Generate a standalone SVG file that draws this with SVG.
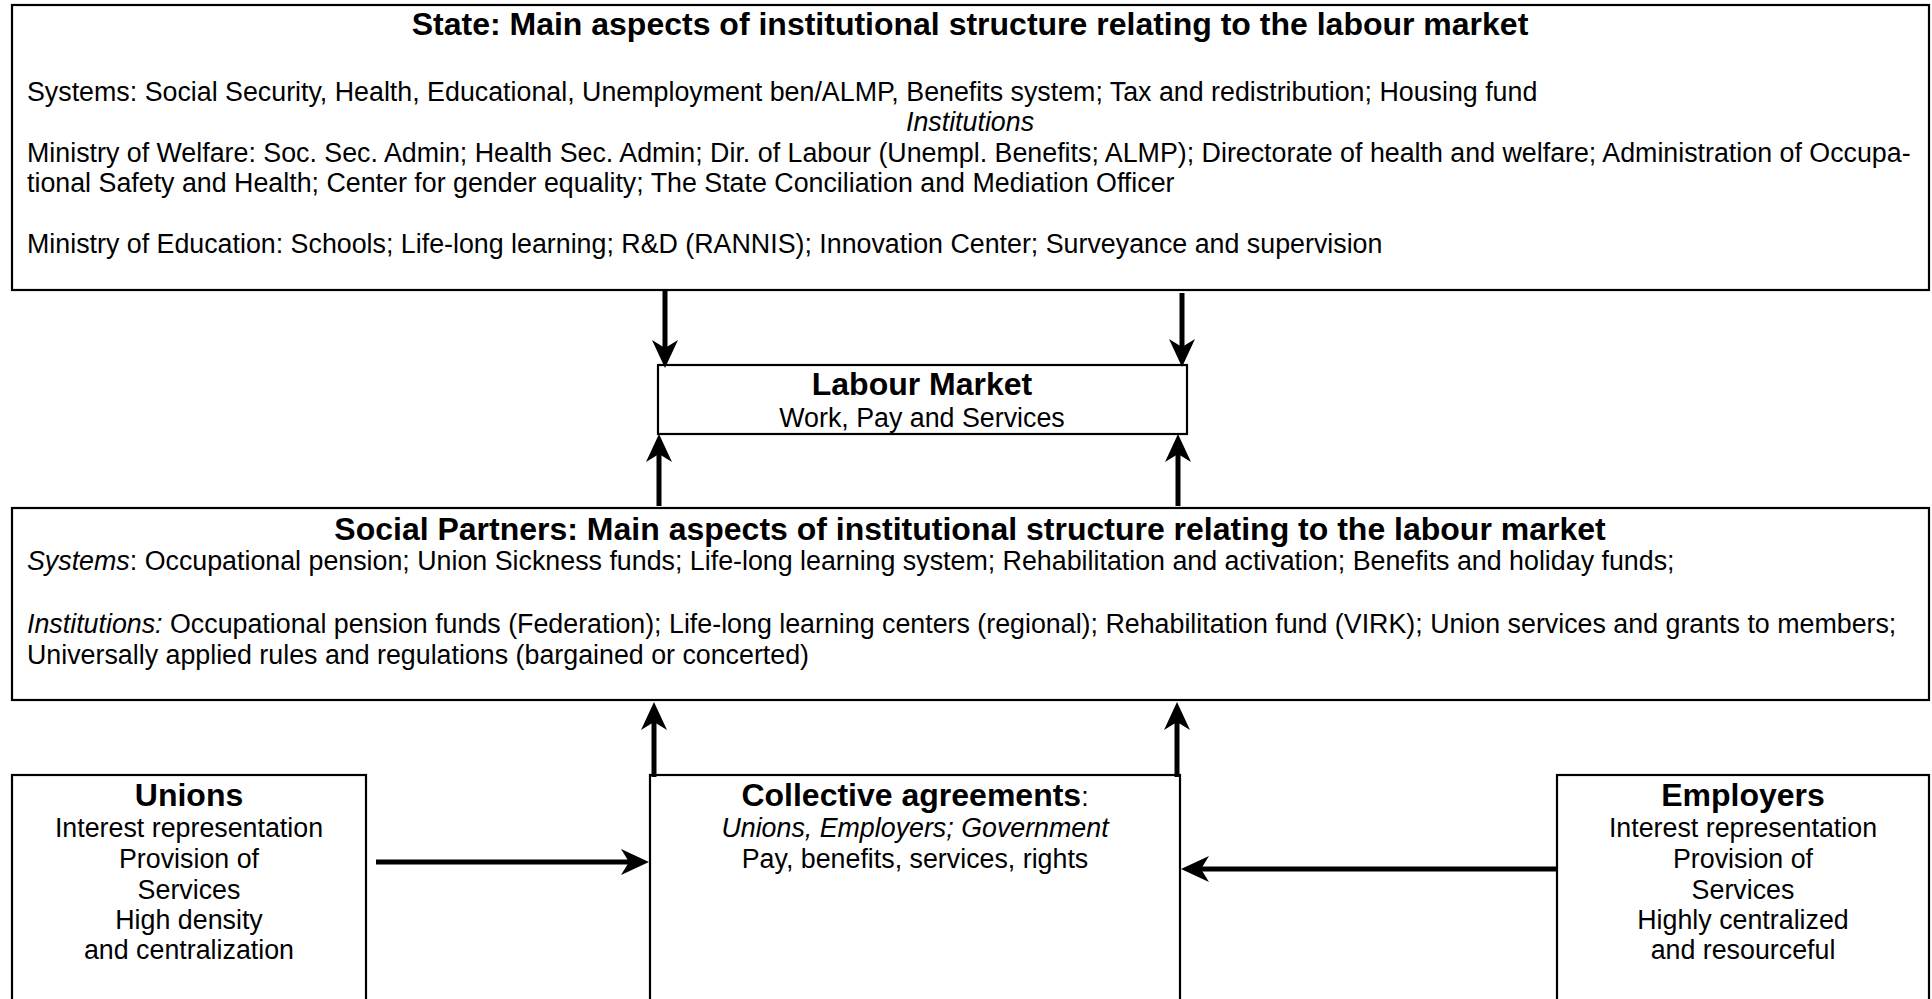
<svg xmlns="http://www.w3.org/2000/svg" width="1932" height="999" viewBox="0 0 1932 999">
<defs>
<style>
.box{fill:#fff;stroke:#000;stroke-width:2.2}
.t{font-family:"Liberation Sans",Arial,sans-serif;font-size:26.8px;fill:#000}
.b{font-family:"Liberation Sans",Arial,sans-serif;font-size:32px;font-weight:bold;fill:#000}
.c{text-anchor:middle}
.i{font-style:italic}
.arr{stroke:#000;stroke-width:5;fill:none;marker-end:url(#ah)}
</style>
<marker id="ah" markerUnits="userSpaceOnUse" markerWidth="30" markerHeight="30" viewBox="0 -15 30 30" refX="8" refY="0" orient="auto">
<path d="M0,-13 L28,0 L0,13 L8,0 Z" fill="#000"/>
</marker>
</defs>

<g id="state">
<rect class="box" x="12" y="5" width="1917" height="285"/>
<text class="b c" x="970" y="35">State: Main aspects of institutional structure relating to the labour market</text>
<text class="t" x="27" y="101">Systems: Social Security, Health, Educational, Unemployment ben/ALMP, Benefits system; Tax and redistribution; Housing fund</text>
<text class="t c i" x="970" y="131">Institutions</text>
<text class="t" x="27" y="162">Ministry of Welfare: Soc. Sec. Admin; Health Sec. Admin; Dir. of Labour (Unempl. Benefits; ALMP); Directorate of health and welfare; Administration of Occupa-</text>
<text class="t" x="27" y="192">tional Safety and Health; Center for gender equality; The State Conciliation and Mediation Officer</text>
<text class="t" x="27" y="253">Ministry of Education: Schools; Life-long learning; R&amp;D (RANNIS); Innovation Center; Surveyance and supervision</text>
</g>

<g id="labour-market">
<rect class="box" x="658" y="365" width="529" height="69"/>
<text class="b c" x="922" y="395">Labour Market</text>
<text class="t c" x="922" y="427">Work, Pay and Services</text>
</g>

<g id="social-partners">
<rect class="box" x="12" y="508" width="1917" height="192"/>
<text class="b c" x="970" y="540">Social Partners: Main aspects of institutional structure relating to the labour market</text>
<text class="t" x="27" y="570"><tspan class="i">Systems</tspan>: Occupational pension; Union Sickness funds; Life-long learning system; Rehabilitation and activation; Benefits and holiday funds;</text>
<text class="t" x="27" y="633"><tspan class="i">Institutions:</tspan> Occupational pension funds (Federation); Life-long learning centers (regional); Rehabilitation fund (VIRK); Union services and grants to members;</text>
<text class="t" x="27" y="664">Universally applied rules and regulations (bargained or concerted)</text>
</g>

<g id="unions">
<rect class="box" x="12" y="775" width="354" height="240"/>
<text class="b c" x="189" y="806">Unions</text>
<text class="t c" x="189" y="837">Interest representation</text>
<text class="t c" x="189" y="868">Provision of</text>
<text class="t c" x="189" y="899">Services</text>
<text class="t c" x="189" y="929">High density</text>
<text class="t c" x="189" y="959">and centralization</text>
</g>

<g id="collective-agreements">
<rect class="box" x="650" y="775" width="530" height="240"/>
<text class="c" x="915" y="806"><tspan class="b">Collective agreements</tspan><tspan class="t" font-size="32">:</tspan></text>
<text class="t c i" x="915" y="837">Unions, Employers; Government</text>
<text class="t c" x="915" y="868">Pay, benefits, services, rights</text>
</g>

<g id="employers">
<rect class="box" x="1557" y="775" width="372" height="240"/>
<text class="b c" x="1743" y="806">Employers</text>
<text class="t c" x="1743" y="837">Interest representation</text>
<text class="t c" x="1743" y="868">Provision of</text>
<text class="t c" x="1743" y="899">Services</text>
<text class="t c" x="1743" y="929">Highly centralized</text>
<text class="t c" x="1743" y="959">and resourceful</text>
</g>

<g id="connectors">
<line class="arr" x1="665" y1="290" x2="665" y2="348"/>
<line class="arr" x1="1182" y1="293" x2="1182" y2="347"/>
<line class="arr" x1="659" y1="506" x2="659" y2="454"/>
<line class="arr" x1="1178" y1="506" x2="1178" y2="454"/>
<line class="arr" x1="654" y1="777" x2="654" y2="722"/>
<line class="arr" x1="1177" y1="777" x2="1177" y2="722"/>
<line class="arr" x1="376" y1="862" x2="629" y2="862"/>
<line class="arr" x1="1557" y1="869" x2="1201" y2="869"/>
</g>
</svg>
